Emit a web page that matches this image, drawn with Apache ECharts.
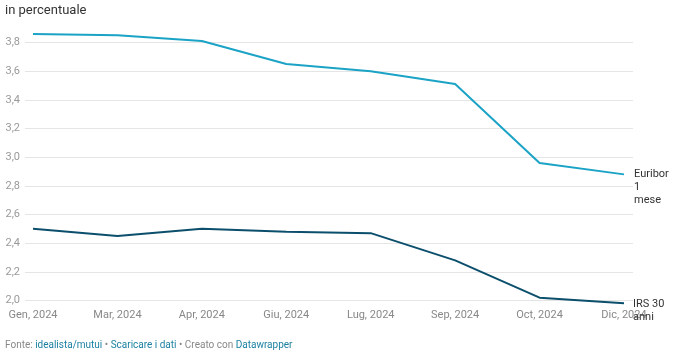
<!DOCTYPE html>
<html><head><meta charset="utf-8">
<script src="https://cdn.jsdelivr.net/npm/echarts@6/dist/echarts.min.js"></script>
<style>html,body{margin:0;padding:0;background:#fff}#c{width:679px;height:361px}</style>
</head><body><div id="c"></div>
<script>
const categories = ["Gen, 2024","Mar, 2024","Apr, 2024","Giu, 2024","Lug, 2024","Sep, 2024","Oct, 2024","Dic, 2024"];
const euribor = [3.86, 3.85, 3.81, 3.65, 3.60, 3.51, 2.96, 2.88];
const irs = [2.50, 2.45, 2.50, 2.48, 2.47, 2.28, 2.02, 1.98];
const yTicks = {min: 2.0, max: 3.8, interval: 0.2};
const seriesNames = ["Euribor\n1\nmese", "IRS 30\nanni"];

const chart = echarts.init(document.getElementById('c'), null, {renderer:'canvas'});
const F = 'Roboto, sans-serif';
chart.setOption({
  animation:false,
  backgroundColor:'#fff',
  textStyle:{fontFamily:F},
  grid:[
    {left:25, right:46, top:42.5, bottom:60.5},
    {left:33, right:55, top:42.5, bottom:60.5}
  ],
  xAxis:[
    {gridIndex:0, type:'category', data:[], show:false},
    {gridIndex:1, type:'category', data:categories, boundaryGap:false,
     axisLine:{show:false}, axisTick:{show:false},
     axisLabel:{interval:0, color:'#888', fontSize:11, margin:9, fontFamily:F}}
  ],
  yAxis:[
    {gridIndex:0, type:'value', min:yTicks.min, max:yTicks.max, interval:yTicks.interval,
     axisLine:{show:false}, axisTick:{show:false},
     axisLabel:{color:'#999', fontSize:11, margin:5, fontFamily:F,
       formatter:v=>v.toFixed(1).replace('.',',')},
     splitLine:{lineStyle:{color:'#e5e5e5', width:1}}},
    {gridIndex:1, type:'value', min:yTicks.min, max:yTicks.max, interval:yTicks.interval, show:false, splitLine:{show:false}}
  ],
  series:[
    {type:'line', name:seriesNames[0], xAxisIndex:1, yAxisIndex:1, data:euribor, clip:false,
     symbol:'none', lineStyle:{color:'#1ba3c6', width:2}, itemStyle:{color:'#1ba3c6'},
     endLabel:{show:true, formatter:seriesNames[0], color:'#333', fontSize:11, fontFamily:F,
       lineHeight:13, align:'left', verticalAlign:'top', distance:10, offset:[0,-7]}},
    {type:'line', name:seriesNames[1], xAxisIndex:1, yAxisIndex:1, data:irs, clip:false,
     symbol:'none', lineStyle:{color:'#0b4f6c', width:2}, itemStyle:{color:'#0b4f6c'},
     endLabel:{show:true, formatter:seriesNames[1], color:'#333', fontSize:11, fontFamily:F,
       lineHeight:13, align:'left', verticalAlign:'top', distance:9, offset:[0,-6]}}
  ],
  graphic:[
    {type:'text', left:5, top:4, style:{text:'in percentuale', fill:'#333', fontSize:13, fontFamily:F}},
    {type:'text', left:5, top:340, style:{
      text:'{g|Fonte: }{b|idealista/mutui}{g| • }{b|Scaricare i dati}{g| • Creato con }{b|Datawrapper}',
      rich:{g:{fill:'#888', fontSize:10, fontFamily:F}, b:{fill:'#1d81a2', fontSize:10, fontFamily:F}}}}
  ]
});
</script></body></html>
